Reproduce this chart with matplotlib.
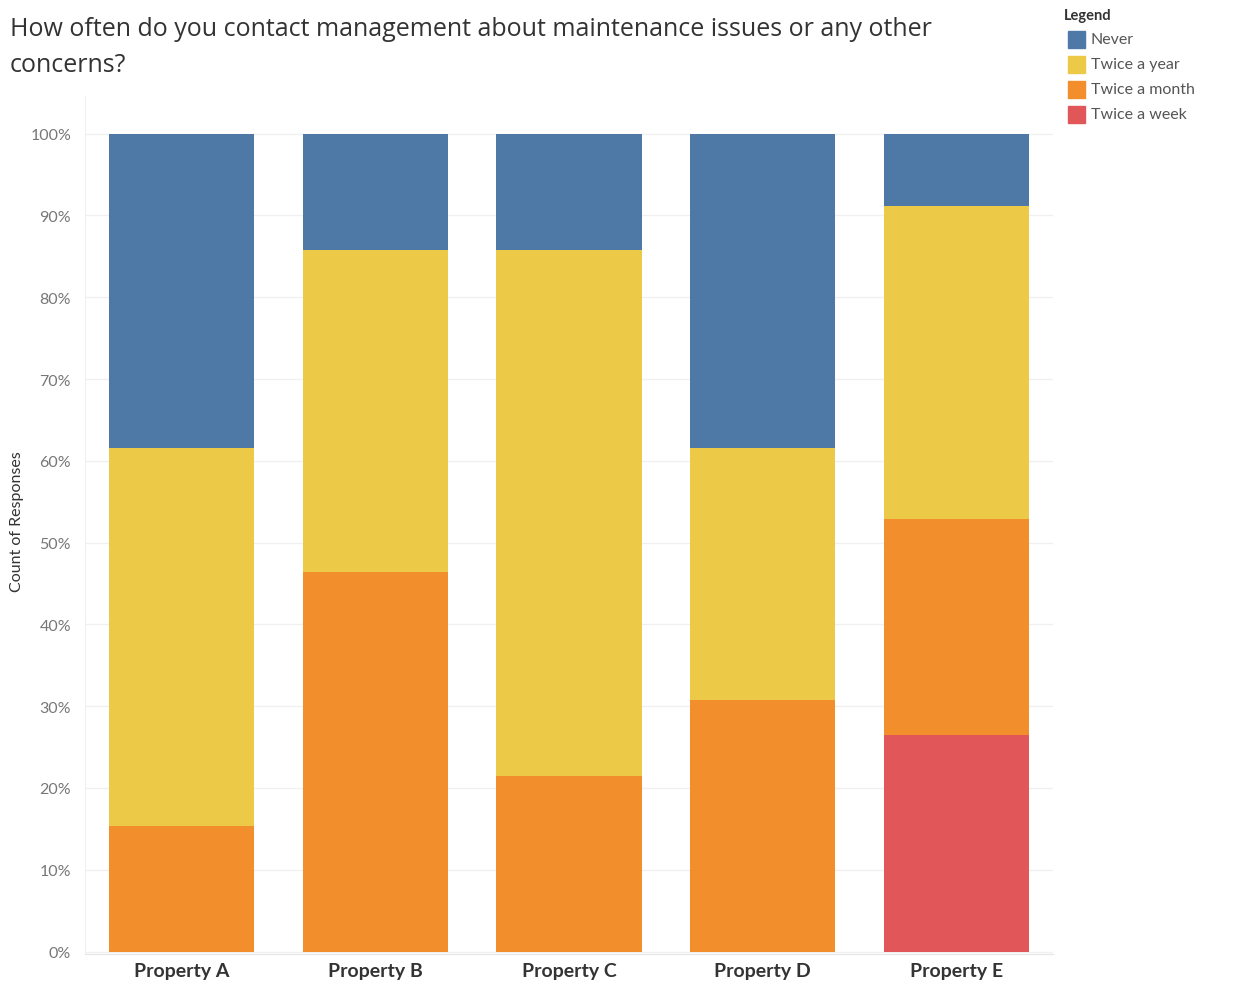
import matplotlib.pyplot as plt
import numpy as np

plt.rcParams['font.family'] = ['Lato', 'DejaVu Sans']

properties = ['Property A', 'Property B', 'Property C', 'Property D', 'Property E']
frequencies = ['Twice a week', 'Twice a month', 'Twice a year', 'Never']
twice_a_week = [0, 0, 0, 0, 9]
twice_a_month = [2, 13, 3, 4, 9]
twice_a_year = [6, 11, 9, 4, 13]
never = [5, 4, 2, 5, 3]
colors = {'Never': '#4e79a7', 'Twice a year': '#edc948',
          'Twice a month': '#f28e2b', 'Twice a week': '#e15759'}
legend_order = ['Never', 'Twice a year', 'Twice a month', 'Twice a week']

counts = np.array([twice_a_week, twice_a_month, twice_a_year, never], dtype=float)
shares = counts / counts.sum(axis=0) * 100

fig = plt.figure(figsize=(12.49, 9.87), dpi=100)
ax = fig.add_axes([85 / 1249, 1 - 955 / 987, (1053 - 85) / 1249, (955 - 97) / 987])

x = np.arange(len(properties))
bottom = np.zeros(len(properties))
for name, vals in zip(frequencies, shares):
    ax.bar(x, vals, width=0.75, bottom=bottom, color=colors[name], zorder=3,
           linewidth=0)
    bottom += vals

ax.set_xlim(-0.5, len(properties) - 0.5)
ax.set_ylim(-0.3, 104.6)
ax.set_yticks(np.arange(0, 101, 10))
ax.set_yticklabels([f'{v}%' for v in range(0, 101, 10)], color='#777777', fontsize=11.5)
ax.set_xticks(x)
ax.set_xticklabels(properties, fontsize=14, fontweight='bold', color='#333333')
ax.tick_params(axis='y', length=0, pad=10)
ax.tick_params(axis='x', length=0, pad=6)
ax.grid(axis='y', color='#f0f0f0', linewidth=1, zorder=0)
for s in ['top', 'right']:
    ax.spines[s].set_visible(False)
ax.spines['left'].set_color('#f0f0f0')
ax.spines['bottom'].set_color('#e6e6e6')

fig.text(17 / 1249, 1 - 522 / 987, 'Count of Responses', rotation=90,
         ha='center', va='center', fontsize=11.5, color='#333333')

title_font = ['Open Sans', 'DejaVu Sans']
fig.text(10 / 1249, 1 - 30 / 987,
         'How often do you contact management about maintenance issues or any other',
         ha='left', va='center', fontsize=18, color='#333333', family=title_font)
fig.text(10 / 1249, 1 - 65 / 987, 'concerns?',
         ha='left', va='center', fontsize=18, color='#333333', family=title_font)

# legend panel
fig.text(1064 / 1249, 1 - 16 / 987, 'Legend', ha='left', va='center',
         fontsize=10.5, fontweight='bold', color='#333333')
for i, name in enumerate(legend_order):
    yc = 40 + i * 25
    fig.patches.append(plt.Rectangle((1068 / 1249, 1 - (yc + 8.5) / 987),
                                     17 / 1249, 17 / 987, transform=fig.transFigure,
                                     color=colors[name], figure=fig))
    fig.text(1091 / 1249, 1 - yc / 987, name, ha='left', va='center',
             fontsize=11.5, color='#555555')

fig.savefig('out.png', dpi=100)
